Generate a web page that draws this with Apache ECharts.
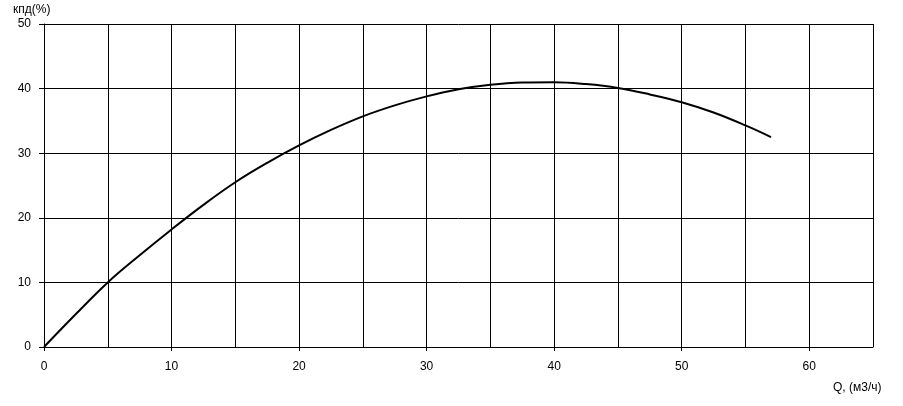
<!DOCTYPE html>
<html>
<head>
<meta charset="utf-8">
<script src="https://cdn.jsdelivr.net/npm/echarts@6/dist/echarts.min.js"></script>
<style>html,body{margin:0;padding:0;background:#fff;}#c{width:903px;height:406px;}</style>
</head>
<body>
<div id="c"></div>
<script>
const flowQ = [0, 2.5, 5, 7.5, 10, 12.5, 15, 17.5, 20, 22.5, 25, 27.5, 30, 32.5, 35, 37.5, 40, 42.5, 45, 47.5, 50, 52.5, 55, 57];
const efficiency = [0, 5.1, 10.0, 14.2, 18.2, 22.0, 25.5, 28.5, 31.2, 33.6, 35.7, 37.4, 38.8, 39.9, 40.6, 40.95, 41.0, 40.7, 40.1, 39.1, 37.9, 36.3, 34.3, 32.5];
const xTickLabels = [0, 10, 20, 30, 40, 50, 60];
const yTickLabels = [0, 10, 20, 30, 40, 50];
const xAxisName = 'Q, (м3/ч)';
const yAxisName = 'кпд(%)';

const chart = echarts.init(document.getElementById('c'), null, {renderer: 'canvas'});
const font = 'Liberation Sans, Arial, sans-serif';
chart.setOption({
  animation: false,
  backgroundColor: '#fff',
  grid: {left: 44, right: 30, top: 24, bottom: 59, containLabel: false},
  xAxis: [{
    type: 'value', min: 0, max: 65, interval: 5,
    axisLine: {show: true, lineStyle: {color: '#000', width: 1}},
    axisTick: {show: true, length: 4, lineStyle: {color: '#000'}, customValues: xTickLabels},
    axisLabel: {customValues: xTickLabels, color: '#000', fontSize: 12, fontFamily: font, margin: 14},
    splitLine: {show: true, lineStyle: {color: '#000', width: 1}}
  }, {
    type: 'value', min: 0, max: 65, interval: 5, position: 'bottom',
    axisLine: {show: false}, axisTick: {show: false}, axisLabel: {show: false},
    splitLine: {show: true, lineStyle: {color: '#000', width: 1}}
  }],
  yAxis: {
    type: 'value', min: 0, max: 50, interval: 10,
    axisLine: {show: true, lineStyle: {color: '#000', width: 1}},
    axisTick: {show: true, length: 5, lineStyle: {color: '#000'}, customValues: yTickLabels},
    axisLabel: {customValues: yTickLabels, color: '#000', fontSize: 12, fontFamily: font, margin: 13},
    splitLine: {show: true, lineStyle: {color: '#000', width: 1}}
  },
  graphic: [
    {type: 'text', left: 13, top: 4, style: {text: yAxisName, fill: '#000', font: '12px ' + font}},
    {type: 'text', left: 833, top: 382, style: {text: xAxisName, fill: '#000', font: '12px ' + font}}
  ],
  series: [{
    type: 'line',
    xAxisIndex: 0,
    data: flowQ.map((q, i) => [q, efficiency[i]]),
    smooth: 0.4,
    showSymbol: false,
    lineStyle: {color: '#000', width: 2},
    clip: false
  }]
});
</script>
</body>
</html>
